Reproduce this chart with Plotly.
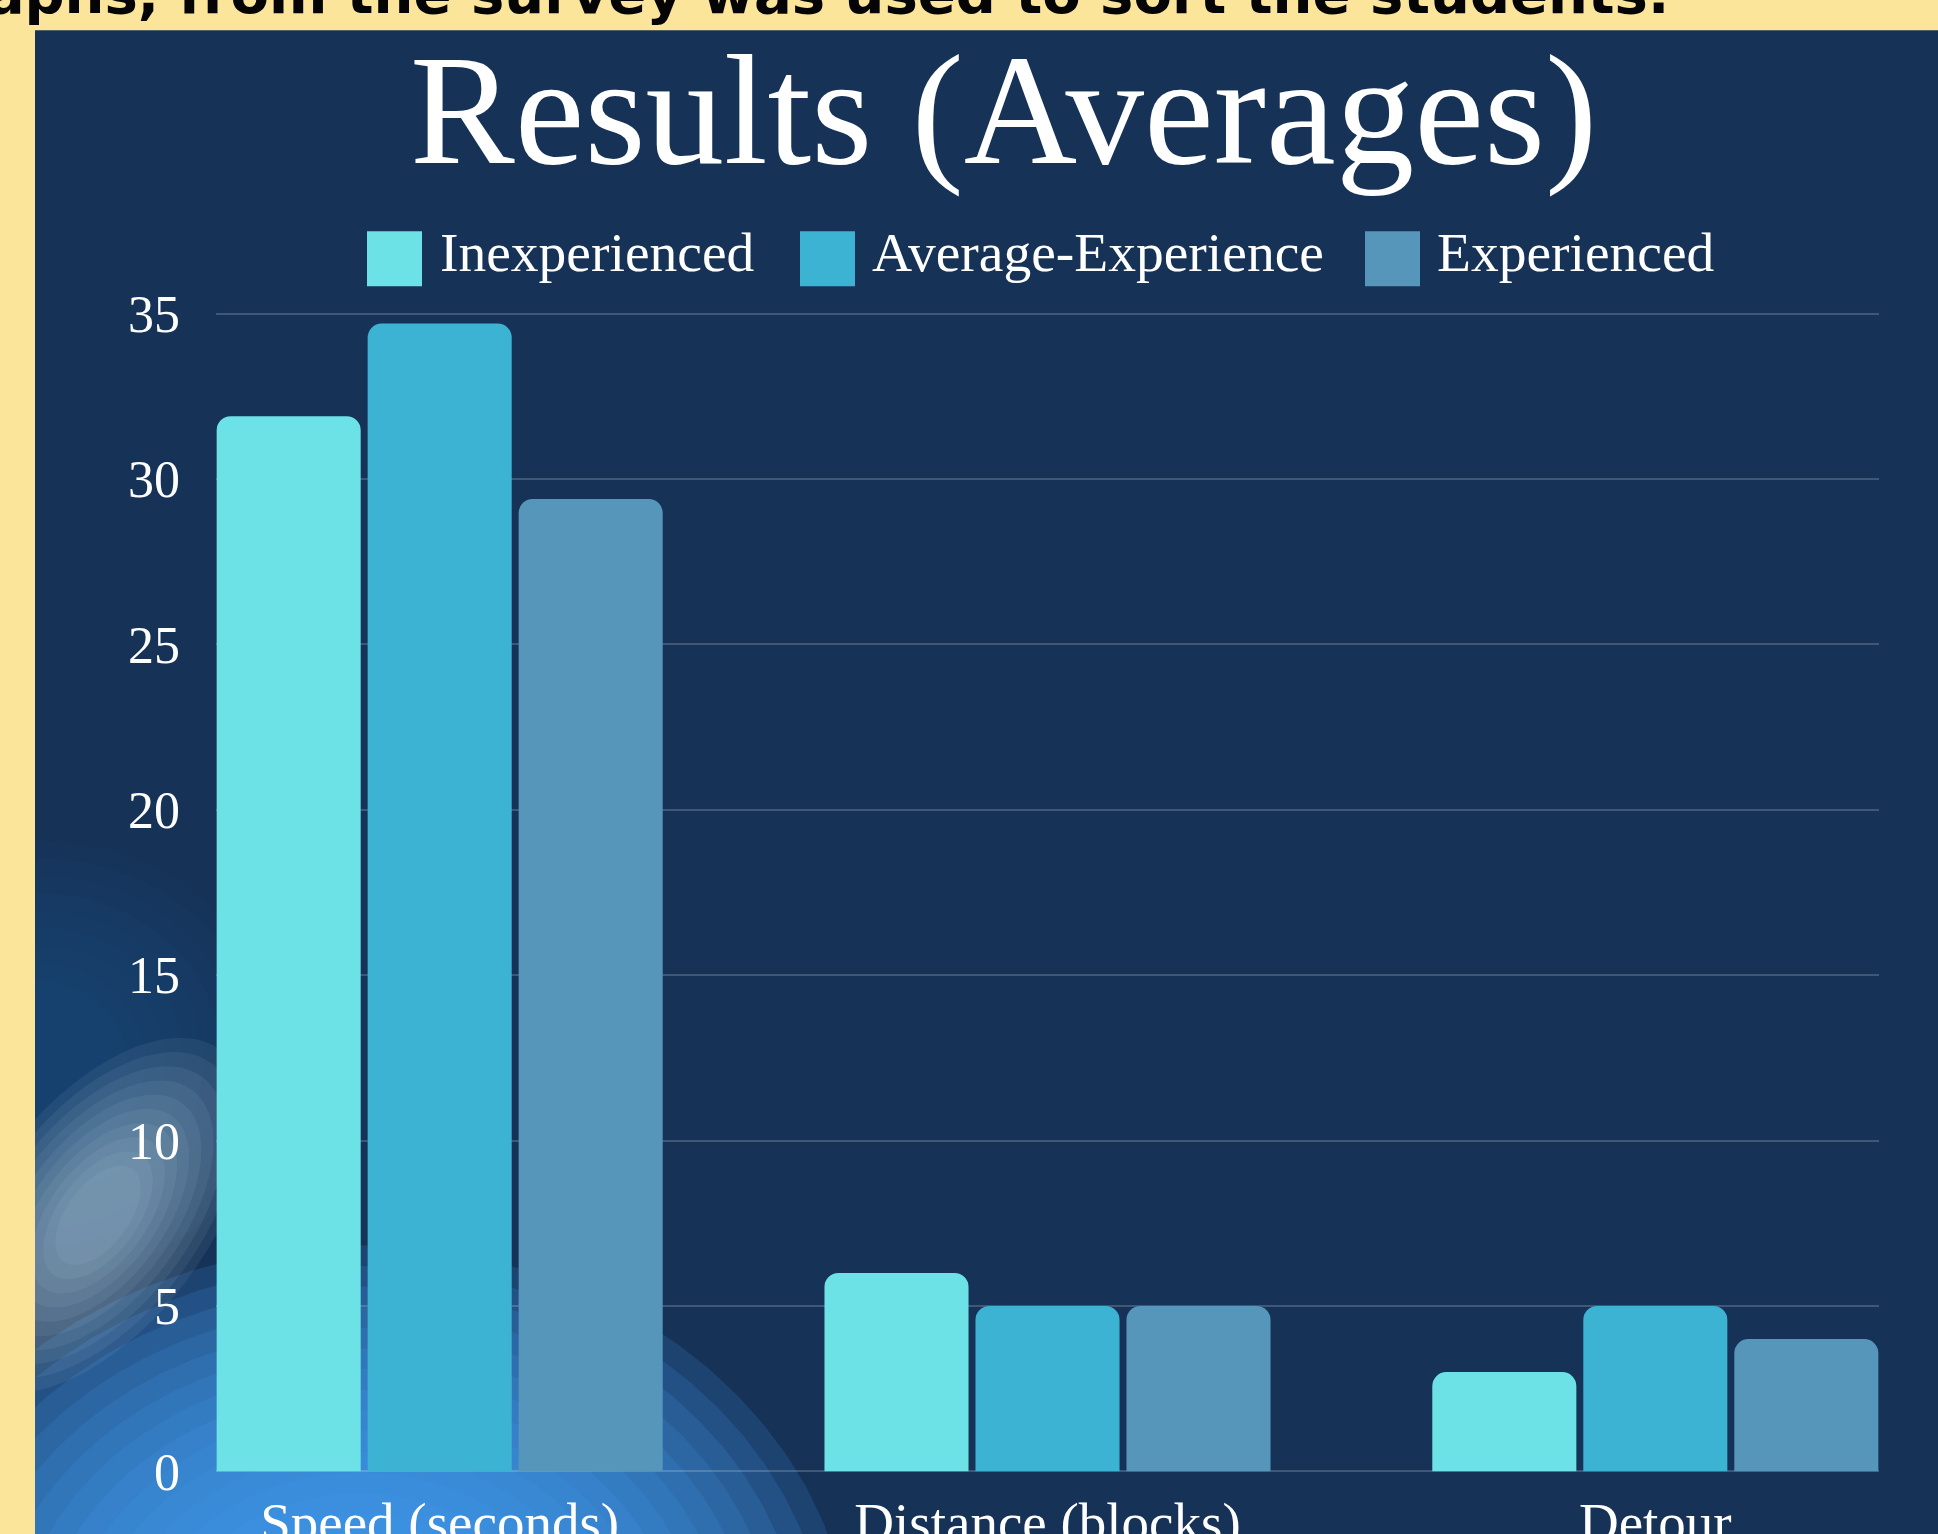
import math
import plotly.graph_objects as go

# ---------------- data ----------------
categories = ["Speed (seconds)", "Distance (blocks)", "Detour"]
series_names = ["Inexperienced", "Average-Experience", "Experienced"]
inexperienced = [31.9, 6, 3]
average_experience = [34.7, 5, 5]
experienced = [29.4, 5, 4]
y_ticks = [0, 5, 10, 15, 20, 25, 30, 35]

title_text = "Results (Averages)"
caption_text = "graphs, from the survey was used to sort the students."

# ---------------- styles ----------------
colors = ["#6ce1e6", "#3db3d3", "#5796bb"]
NAVY = "#163257"
YELLOW = "#fbe59a"
SERIF = "Liberation Serif"

W, H = 1938, 1534
Y0, Y1 = -0.05, 35.05
UNIT = (1471 - 313.3) / 35.0
L, R = 216, 1879
T = 313.3 - (Y1 - 35) * UNIT
B = 1471 + (0 - Y0) * UNIT


def px(x):
    return (x - L) / (R - L)


def py(y):
    return (B - y) / (B - T)


fig = go.Figure()
for name, vals, c in zip(series_names,
                         [inexperienced, average_experience, experienced],
                         colors):
    fig.add_trace(go.Bar(x=categories, y=vals, name=name,
                         marker=dict(color=c, line=dict(width=0)),
                         showlegend=False))

shapes = []
# dark panel
shapes.append(dict(type="rect", xref="paper", yref="paper",
                   x0=px(35), x1=px(W + 10), y0=py(H + 10), y1=py(30),
                   fillcolor=NAVY, line=dict(width=0), layer="below"))


def blob(cx, cy, rx, ry, ang_deg, color, opacity, n=72):
    a = math.radians(ang_deg)
    pts = []
    for i in range(n):
        t = 2 * math.pi * i / n
        x = cx + rx * math.cos(t) * math.cos(a) - ry * math.sin(t) * math.sin(a)
        y = cy + rx * math.cos(t) * math.sin(a) + ry * math.sin(t) * math.cos(a)
        pts.append(f"{px(x):.5f},{py(y):.5f}")
    path = "M" + " L".join(pts) + " Z"
    return dict(type="path", xref="paper", yref="paper", path=path,
                fillcolor=color, opacity=opacity, line=dict(width=0),
                layer="below")


# faint lighter navy at left
for i in range(10):
    s = 1.0 - i * 0.08
    shapes.append(blob(40, 1060, 240 * s, 220 * s, 0, "#2d5f98", 0.05))
# bright blue glow at bottom-left
for i in range(16):
    s = 1.12 - i * 0.055
    shapes.append(blob(360, 1665, 440 * s, 375 * s, 0, "#4199ee", 0.17))
# whitish haze streak
for i in range(10):
    s = 1.25 - i * 0.1
    shapes.append(blob(98, 1215, 165 * s, 88 * s, -53, "#cfe0f2", 0.075))
# yellow strip on left (clips the glow)
shapes.append(dict(type="rect", xref="paper", yref="paper",
                   x0=px(-10), x1=px(35), y0=py(H + 10), y1=py(-10),
                   fillcolor=YELLOW, line=dict(width=0), layer="below"))

annotations = []
# custom legend
swatch_x = [367, 800, 1365]
text_x = [439, 871, 1436]
for name, c, sx, tx in zip(series_names, colors, swatch_x, text_x):
    shapes.append(dict(type="rect", xref="paper", yref="paper",
                       x0=px(sx), x1=px(sx + 55), y0=py(286), y1=py(231),
                       fillcolor=c, line=dict(width=0), layer="below"))
    annotations.append(dict(text=name, xref="paper", yref="paper",
                            x=px(tx), y=py(221), xanchor="left", yanchor="top",
                            showarrow=False, borderpad=0,
                            font=dict(family=SERIF, size=55.5, color="white")))

# title
annotations.append(dict(text=title_text, xref="paper", yref="paper",
                        x=px(1003), y=py(22), xanchor="center", yanchor="top",
                        showarrow=False, borderpad=0,
                        font=dict(family=SERIF, size=157, color="white")))
# caption cut off at the top
annotations.append(dict(text=caption_text, xref="paper", yref="paper",
                        x=px(1670), y=py(26.5), xanchor="right", yanchor="bottom",
                        showarrow=False, borderpad=0,
                        font=dict(family="DejaVu Sans", size=56, color="#050505",
                                  weight="bold")))

fig.update_layout(
    width=W, height=H,
    margin=dict(l=L, r=W - R, t=T, b=H - B, pad=0),
    paper_bgcolor=YELLOW, plot_bgcolor="rgba(0,0,0,0)",
    barmode="group", bargap=0.2547, bargroupgap=0.046, barcornerradius=14,
    showlegend=False,
    font=dict(family=SERIF, color="white"),
    shapes=shapes, annotations=annotations,
)
fig.update_xaxes(range=[-0.368, 2.368], showgrid=False, zeroline=False,
                 showline=False, ticks="", automargin=False,
                 tickfont=dict(family=SERIF, size=55, color="white"),
                 ticklabelstandoff=12)
fig.update_yaxes(range=[Y0, Y1], tickvals=y_ticks, showgrid=True,
                 gridcolor="rgba(255,255,255,0.18)", gridwidth=1.5,
                 zeroline=False, showline=False, ticks="", automargin=False,
                 tickfont=dict(family=SERIF, size=52, color="white"),
                 ticklabelstandoff=35)

fig.write_html("out.html",
               config={"displayModeBar": False},
               post_script="document.body.style.margin='0px';")
